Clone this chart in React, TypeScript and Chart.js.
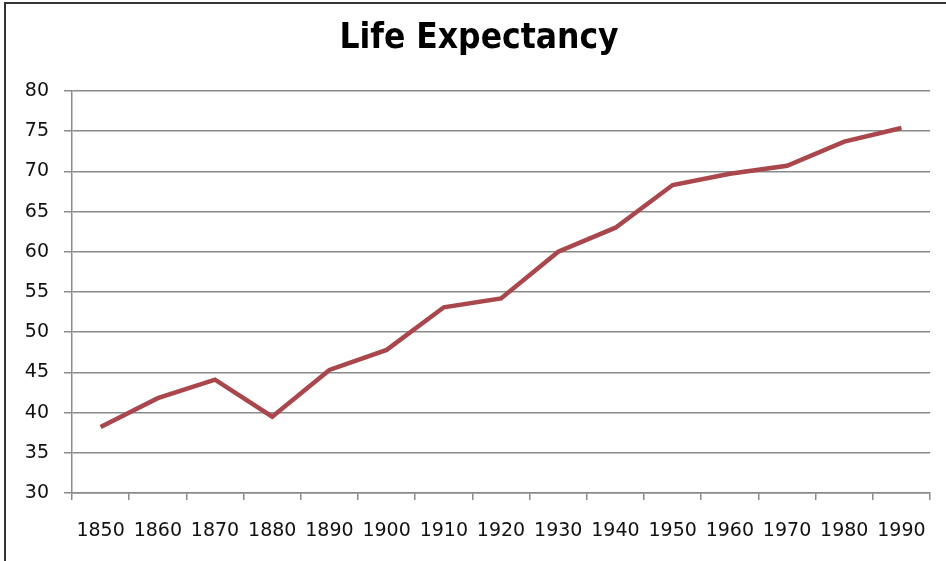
import React, { useEffect, useRef } from "react";
import { Chart, registerables } from "chart.js";

Chart.register(...registerables);

const TITLE = "Life Expectancy";
const years = ["1850", "1860", "1870", "1880", "1890", "1900", "1910", "1920", "1930", "1940", "1950", "1960", "1970", "1980", "1990"];
const lifeExpectancy = [38.2, 41.8, 44.1, 39.5, 45.3, 47.8, 53.1, 54.2, 60.0, 63.0, 68.3, 69.7, 70.7, 73.7, 75.4];
const yMin = 30;
const yMax = 80;
const yStep = 5;

const TITLE_FONT = "bold 35px 'DejaVu Sans Condensed', 'DejaVu Sans'";

const titlePlugin = {
  id: "offsetTitle",
  afterDraw(chart: any) {
    const ctx = chart.ctx;
    ctx.save();
    ctx.font = TITLE_FONT;
    ctx.fillStyle = "#000000";
    ctx.textAlign = "center";
    ctx.textBaseline = "alphabetic";
    ctx.fillText(TITLE, chart.width / 2 + 6, 48);
    ctx.restore();
  },
};

export default function App() {
  const canvasRef = useRef<HTMLCanvasElement | null>(null);

  useEffect(() => {
    if (!canvasRef.current) return;
    const gridColor = "#8a8a8a";
    const chart = new Chart(canvasRef.current, {
      type: "line",
      data: {
        labels: years,
        datasets: [
          {
            label: TITLE,
            data: lifeExpectancy,
            borderColor: "#A9474C",
            borderWidth: 4.5,
            pointRadius: 0,
            tension: 0,
            fill: false,
          },
        ],
      },
      options: {
        animation: false,
        responsive: false,
        layout: { padding: { left: 0, right: 11, top: 0, bottom: 0 } },
        plugins: {
          legend: { display: false },
          tooltip: { enabled: false },
          title: {
            display: true,
            text: TITLE,
            color: "rgba(0,0,0,0)",
            font: { family: "'DejaVu Sans Condensed', 'DejaVu Sans'", size: 35, weight: "bold", lineHeight: 1.2 },
            padding: { top: 15, bottom: 34 },
          },
        },
        scales: {
          x: {
            type: "category",
            offset: true,
            grid: {
              display: true,
              offset: true,
              drawOnChartArea: false,
              drawTicks: true,
              tickLength: 7,
              color: gridColor,
              lineWidth: 1.5,
            },
            border: { display: true, color: gridColor, width: 1.5 },
            ticks: {
              color: "#111111",
              font: { family: "'DejaVu Sans'", size: 19, lineHeight: 1.2 },
              padding: 20,
              maxRotation: 0,
              autoSkip: false,
            },
            afterFit: (scale: any) => {
              scale.height = 68;
            },
          },
          y: {
            min: yMin,
            max: yMax,
            grid: {
              color: gridColor,
              lineWidth: 1.5,
              drawTicks: true,
              tickLength: 8,
            },
            border: { display: true, color: gridColor, width: 1.5 },
            ticks: {
              stepSize: yStep,
              color: "#111111",
              font: { family: "'DejaVu Sans'", size: 19, lineHeight: 1.2 },
              padding: 15,
            },
            afterFit: (scale: any) => {
              scale.width = 72;
            },
          },
        },
      },
      plugins: [titlePlugin],
    });
    return () => chart.destroy();
  }, []);

  return (
    <div style={{ position: "fixed", left: 0, top: 0, width: 946, height: 561, background: "#ffffff", overflow: "hidden" }}>
      <canvas ref={canvasRef} width={946} height={561} style={{ position: "absolute", left: 0, top: 0, width: 946, height: 561 }} />
      <div
        style={{
          position: "absolute",
          left: 4,
          top: 2,
          width: 946,
          height: 561,
          borderLeft: "2px solid #333",
          borderTop: "2px solid #333",
          pointerEvents: "none",
        }}
      />
    </div>
  );
}
